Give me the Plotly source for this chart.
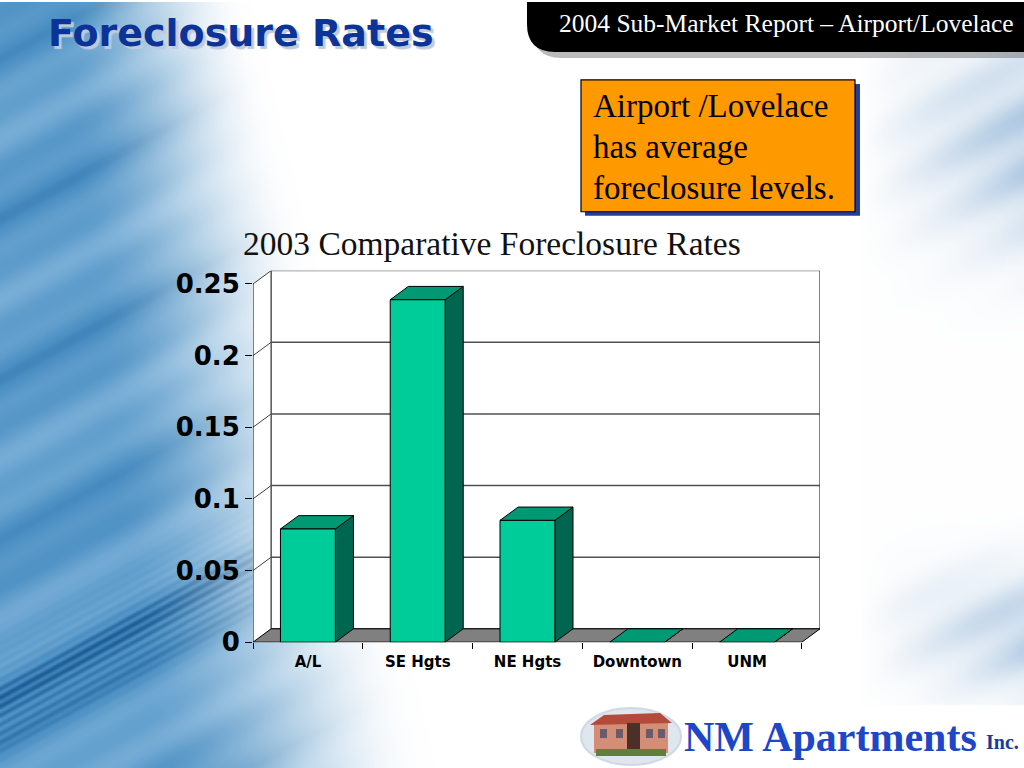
import base64, struct, zlib
import numpy as np
import plotly.graph_objects as go

# ---------------- data ----------------
categories = ["A/L", "SE Hgts", "NE Hgts", "Downtown", "UNM"]
rates = [0.079, 0.239, 0.085, 0.0, 0.0]
tick_values = [0, 0.05, 0.1, 0.15, 0.2, 0.25]
tick_labels = ["0", "0.05", "0.1", "0.15", "0.2", "0.25"]
chart_title = "2003 Comparative Foreclosure Rates"
slide_title = "Foreclosure Rates"
banner_text = "2004 Sub-Market Report \u2013 Airport/Lovelace"
callout_lines = ["Airport /Lovelace", "has average", "foreclosure levels."]

W, H = 1024, 768
def X(px): return px / W
def Y(py): return 1 - py / H

DX = 0.165
DY = 0.0093
BAR_HALF = 0.25
y_top = max(tick_values)

FRONT = "#00CC99"
SIDE = "#006650"
TOP = "#009973"
FLOOR = "#808080"

def make_bg():
    w, h = 512, 384
    ys, xs = np.mgrid[0:h, 0:w].astype(float)
    x = xs * (W / w); y = ys * (H / h)
    e = 50 + 0.12 * y
    fw = 200 + 0.12 * y
    t = np.clip((x - e) / fw, 0, 1)
    a = 1 - (3 * t**2 - 2 * t**3)
    s = y + 0.55 * x
    v = 0.35 * np.sin(s * 2 * np.pi / 170.0) + 0.2 * np.sin(s * 2 * np.pi / 53.0 + 1.0)
    cl = np.exp(-((s - 700) / 45.0) ** 2)
    v = v + 0.7 * cl * (0.6 + 0.4 * np.sin(s * 2 * np.pi / 9.0))
    base = np.array([50, 126, 184], float)
    light = np.array([140, 188, 224], float)
    dark = np.array([15, 70, 125], float)
    mixv = np.clip(0.5 - 0.5 * v, 0, 1)[..., None]
    blue = base * (1 - mixv) + light * mixv
    dk = np.clip(v - 0.45, 0, 1)[..., None]
    blue = blue * (1 - dk) + dark * dk
    g = np.exp(-((y - 140) / 100.0) ** 2) + 0.9 * np.exp(-((y - 630) / 60.0) ** 2)
    ar = np.clip((x - 860) / 164.0, 0, 1) * 0.55 * g
    ar = ar * (0.8 + 0.2 * np.sin(s * 2 * np.pi / 60.0))
    ar = np.where((y > 702) & (x > 560), 0, ar)
    rcol = np.array([100, 150, 200], float)
    white = np.array([255, 255, 255], float)
    img = white * (1 - a[..., None]) + blue * a[..., None]
    img = img * (1 - ar[..., None]) + rcol * ar[..., None]
    img = np.clip(img, 0, 255).astype(np.uint8)
    raw = b"".join(b"\x00" + img[r].tobytes() for r in range(h))
    def chunk(tag, data):
        c = struct.pack(">I", len(data)) + tag + data
        return c + struct.pack(">I", zlib.crc32(tag + data) & 0xFFFFFFFF)
    png = b"\x89PNG\r\n\x1a\n" + chunk(b"IHDR", struct.pack(">IIBBBBB", w, h, 8, 2, 0, 0, 0)) \
        + chunk(b"IDAT", zlib.compress(raw, 9)) + chunk(b"IEND", b"")
    return "data:image/png;base64," + base64.b64encode(png).decode()

fig = go.Figure()

def poly(xs, ys, fill, line="black", width=1):
    fig.add_trace(go.Scatter(x=xs + [xs[0]], y=ys + [ys[0]], mode="lines", fill="toself",
                             fillcolor=fill, line=dict(color=line, width=width),
                             hoverinfo="skip", showlegend=False))

def seg(xs, ys, color="black", width=1):
    fig.add_trace(go.Scatter(x=xs, y=ys, mode="lines", line=dict(color=color, width=width),
                             hoverinfo="skip", showlegend=False))

n = len(categories)
x_left = -0.5
x_right = n - 0.5

# left side wall, back wall, gridlines, floor
poly([x_left, x_left + DX, x_left + DX, x_left], [0, DY, y_top + DY, y_top], "white", line="rgba(0,0,0,0)", width=0)
poly([x_left + DX, x_right + DX, x_right + DX, x_left + DX], [DY, DY, y_top + DY, y_top + DY], "white", width=1)
for v in tick_values[1:]:
    if v < y_top:
        seg([x_left + DX, x_right + DX], [v + DY, v + DY], color="#505050", width=1.5)
    seg([x_left, x_left + DX], [v, v + DY], color="#404040", width=1)
seg([x_left, x_left], [0, y_top], color="black", width=1)
poly([x_left, x_right, x_right + DX, x_left + DX], [0, 0, DY, DY], FLOOR, width=1)

# 3D bars
for i, v in enumerate(rates):
    l, r = i - BAR_HALF, i + BAR_HALF
    poly([r, r + DX, r + DX, r], [0, DY, v + DY, v], SIDE)
    poly([l, r, r + DX, l + DX], [v, v, v + DY, v + DY], TOP)
    if v > 0:
        poly([l, r, r, l], [0, 0, v, v], FRONT)

shapes = []
def banner_path(ox, oy):
    return (f"M {X(527+ox)},{Y(0+oy)} L {X(1024+ox)},{Y(0+oy)} L {X(1024+ox)},{Y(50+oy)} L {X(555+ox)},{Y(50+oy)} "
            f"Q {X(527+ox)},{Y(50+oy)} {X(527+ox)},{Y(22+oy)} Z")
shapes.append(dict(type="path", xref="paper", yref="paper", path=banner_path(6, 6),
                   fillcolor="rgba(60,60,60,0.35)", line=dict(width=0), layer="below"))
shapes.append(dict(type="path", xref="paper", yref="paper", path=banner_path(0, 0),
                   fillcolor="black", line=dict(width=0), layer="below"))
shapes.append(dict(type="rect", xref="paper", yref="paper", x0=X(585), x1=X(860), y0=Y(82), y1=Y(214),
                   fillcolor="#1f3f9a", line=dict(width=0), layer="below"))
shapes.append(dict(type="rect", xref="paper", yref="paper", x0=X(581), x1=X(855), y0=Y(78), y1=Y(210),
                   fillcolor="#FF9900", line=dict(color="black", width=1.2), layer="below"))
# logo photo (approximation)
shapes.append(dict(type="circle", xref="paper", yref="paper", x0=X(581), x1=X(681), y0=Y(707), y1=Y(764),
                   fillcolor="#dfe6ee", line=dict(color="rgba(200,210,225,0.8)", width=2), layer="above"))
shapes.append(dict(type="rect", xref="paper", yref="paper", x0=X(594), x1=X(668), y0=Y(722), y1=Y(752),
                   fillcolor="#d48e76", line=dict(width=0), layer="above"))
shapes.append(dict(type="path", xref="paper", yref="paper",
                   path=f"M {X(590)},{Y(724)} L {X(604)},{Y(714)} L {X(660)},{Y(712)} L {X(672)},{Y(722)} Z",
                   fillcolor="#b44a3a", line=dict(width=0), layer="above"))
for wx in (600, 616, 646, 658):
    shapes.append(dict(type="rect", xref="paper", yref="paper", x0=X(wx), x1=X(wx+7), y0=Y(728), y1=Y(737),
                       fillcolor="#6a5a6a", line=dict(width=0), layer="above"))
shapes.append(dict(type="rect", xref="paper", yref="paper", x0=X(627), x1=X(640), y0=Y(722), y1=Y(752),
                   fillcolor="#4a3028", line=dict(width=0), layer="above"))
shapes.append(dict(type="rect", xref="paper", yref="paper", x0=X(596), x1=X(666), y0=Y(748), y1=Y(755),
                   fillcolor="#5f7f3c", line=dict(width=0), layer="above"))

annotations = []
def ann(text, x, y, size, color, family, xanchor="left", bold=False, shadow=None):
    f = dict(size=size, color=color, family=family)
    if shadow:
        f["shadow"] = shadow
    annotations.append(dict(text=(f"<b>{text}</b>" if bold else text), xref="paper", yref="paper",
                            x=X(x), y=Y(y), xanchor=xanchor, yanchor="middle", showarrow=False, font=f))

ann(slide_title, 46, 31, 38, "#0c3398", "DejaVu Sans, Verdana", bold=True, shadow="3px 3px 1px #c0cadb")
ann(banner_text, 786, 22, 25.5, "white", "Liberation Serif, Times New Roman", xanchor="center")
for k, line in enumerate(callout_lines):
    ann(line, 591, 104 + 41 * k, 33, "black", "Liberation Serif, Times New Roman")
ann(chart_title, 492, 242, 33.5, "#111111", "Liberation Serif, Times New Roman", xanchor="center")
ann("NM Apartments", 682, 736, 42, "#1d46c8", "Liberation Serif, Times New Roman", bold=True)
ann("Inc.", 984, 741, 20, "#1a3a9a", "Liberation Serif, Times New Roman", bold=True)

fig.update_layout(
    width=W, height=H, autosize=False,
    margin=dict(l=0, r=0, t=0, b=0),
    paper_bgcolor="white", plot_bgcolor="rgba(0,0,0,0)",
    showlegend=False,
    shapes=shapes, annotations=annotations,
    images=[dict(source=make_bg(), xref="paper", yref="paper", x=0, y=1, sizex=1, sizey=1,
                 sizing="stretch", layer="below", xanchor="left", yanchor="top")],
    xaxis=dict(domain=[X(253), X(820)], range=[x_left, x_right + DX],
               tickmode="array", tickvals=[x_left + k for k in range(n + 1)],
               ticktext=categories + [""], ticklabelshift=55,
               ticks="outside", ticklen=6, tickcolor="black", tickwidth=1,
               showgrid=False, zeroline=False, showline=False,
               tickfont=dict(family="DejaVu Sans", size=15, color="black", weight="bold")),
    yaxis=dict(domain=[Y(641), Y(269)], range=[0, y_top + DY],
               tickmode="array", tickvals=tick_values, ticktext=tick_labels,
               ticks="outside", ticklen=7, tickcolor="black", tickwidth=1,
               showgrid=False, zeroline=False, showline=False,
               tickfont=dict(family="DejaVu Sans", size=26, color="black", weight="bold")),
)

# remove the page margin and let the figure fill the captured page area
post = ("var gd=document.getElementById('{plot_id}');"
        "var de=document.documentElement, b=document.body;"
        "var total=de.scrollHeight;"
        "b.style.margin='0'; de.style.overflow='hidden'; b.style.overflow='hidden';"
        "if (total > %d) { gd.style.height=total+'px'; Plotly.relayout(gd,{height: total}); }" % H)
fig.write_html("out.html", config={"responsive": False, "displayModeBar": False}, post_script=post)
